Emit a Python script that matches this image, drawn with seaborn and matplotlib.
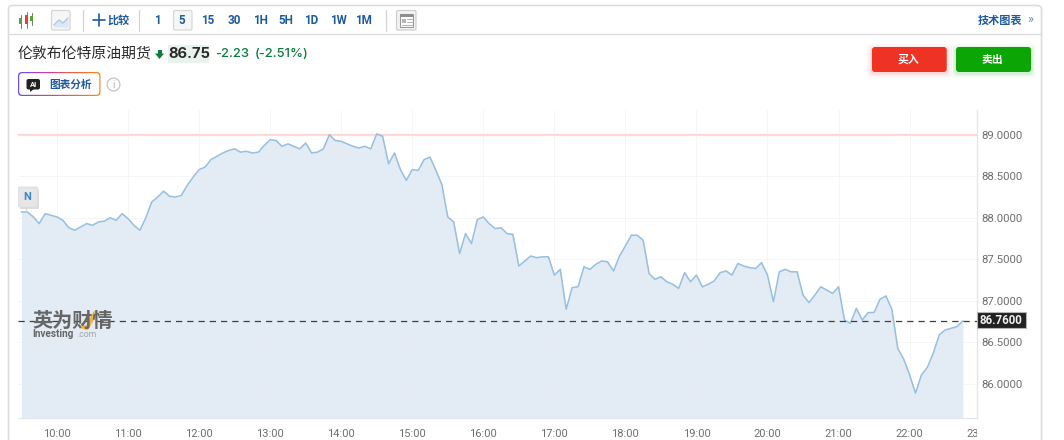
#!/usr/bin/env python
import numpy as np
import pandas as pd
import seaborn as sns
import matplotlib.pyplot as plt
from matplotlib.patches import FancyBboxPatch, Circle, Rectangle
from matplotlib.transforms import Bbox

# 5 minute closes, first one at 09:30
prices = [
    88.07, 88.07, 88.01, 87.93, 88.05, 88.03, 88.01, 87.97, 87.88, 87.85,
    87.89, 87.93, 87.91, 87.95, 87.96, 88.00, 87.97, 88.05, 87.99, 87.91,
    87.85, 88.00, 88.19, 88.25, 88.32, 88.26, 88.25, 88.27, 88.39, 88.49,
    88.58, 88.61, 88.70, 88.74, 88.78, 88.81, 88.83, 88.79, 88.80, 88.78,
    88.79, 88.87, 88.94, 88.93, 88.86, 88.89, 88.86, 88.83, 88.90, 88.78,
    88.79, 88.83, 89.00, 88.93, 88.92, 88.89, 88.86, 88.84, 88.86, 88.83,
    89.01, 88.98, 88.65, 88.78, 88.58, 88.45, 88.58, 88.57, 88.70, 88.73,
    88.57, 88.40, 88.01, 87.95, 87.57, 87.81, 87.69, 87.98, 88.01, 87.93,
    87.87, 87.88, 87.81, 87.80, 87.42, 87.48, 87.54, 87.52, 87.53, 87.53,
    87.31, 87.38, 86.90, 87.16, 87.17, 87.41, 87.38, 87.44, 87.48, 87.47,
    87.36, 87.54, 87.66, 87.79, 87.79, 87.73, 87.33, 87.26, 87.29, 87.23,
    87.20, 87.15, 87.34, 87.23, 87.31, 87.17, 87.20, 87.24, 87.34, 87.36,
    87.31, 87.45, 87.42, 87.40, 87.39, 87.46, 87.31, 86.99, 87.35, 87.38,
    87.35, 87.35, 87.07, 86.98, 87.07, 87.17, 87.13, 87.09, 87.17, 86.77,
    86.73, 86.91, 86.77, 86.86, 86.86, 87.02, 87.06, 86.90, 86.43, 86.30,
    86.11, 85.89, 86.11, 86.20, 86.37, 86.59, 86.65, 86.67, 86.69, 86.76,
]
hour_ticks = list(range(10, 23))
hour_labels = [f"{h}:00" for h in hour_ticks]
price_ticks = [86.0, 86.5, 87.0, 87.5, 88.0, 88.5, 89.0]
last_price = 86.76
high_line = 89.0
intervals = ["1", "5", "15", "30", "1H", "5H", "1D", "1W", "1M"]
interval_x = [157, 182, 208, 234, 260, 285.7, 311, 338, 363]

BLUE = "#1f5a9e"
GREEN = "#0a7d3f"
CJK = ["Noto Sans CJK SC", "DejaVu Sans"]

sns.set_theme(style="white")
plt.rcParams["font.family"] = ["Roboto", "Noto Sans CJK SC", "DejaVu Sans"]

W, H = 1064, 440
fig = plt.figure(figsize=(W / 100, H / 100), dpi=100, facecolor="white")

# chart area, in pixels: x 18-977, y 110-417.5
ax = fig.add_axes([18 / W, 1 - 417.5 / H, 959 / W, 307.5 / H], facecolor="none")

df = pd.DataFrame({"hour": 9.5 + np.arange(len(prices)) * 5 / 60, "price": prices})
ax.fill_between(df["hour"], df["price"], 85.0, color="#e3ecf4", lw=0, zorder=1)
sns.lineplot(data=df, x="hour", y="price", ax=ax, color="#98c1e0", lw=1.15, zorder=3)

ax.set_xlim(10 - 39 / 71.05, 10 + 920 / 71.05)
ax.set_ylim(86 - 33.5 / 83.1, 86 + 274 / 83.1)
ax.set_xticks(hour_ticks, hour_labels)
ax.set_yticks(price_ticks, [f"{p:.4f}" for p in price_ticks])
ax.yaxis.tick_right()
ax.set_xlabel("")
ax.set_ylabel("")
ax.tick_params(axis="x", length=3, width=0.8, color="#e3e6ee", labelsize=8,
               labelcolor="#6f6f6f", pad=5)
ax.tick_params(axis="y", length=0, labelsize=8.2, labelcolor="#6f6f6f", pad=3)
ax.grid(True, color="#e8ebf0", lw=0.7, alpha=0.45, zorder=2)
ax.set_axisbelow(False)
for side in ["top", "left"]:
    ax.spines[side].set_visible(False)
for side in ["right", "bottom"]:
    ax.spines[side].set_color("#e3e6ee")
    ax.spines[side].set_linewidth(1)

ax.axhline(high_line, color="#fbd6d4", lw=1.6, zorder=2)
ax.axhline(last_price, color="#3a3f45", lw=0.9, dashes=(5, 4), zorder=4)

# 23:00 label runs past the plot edge and is cut off there
cut = ax.text(23, -0.038, "23:00", transform=ax.get_xaxis_transform(), ha="center",
              va="top", fontsize=8, color="#6f6f6f", clip_on=True)
cut.set_clip_box(Bbox([[900, 0], [977, 40]]))

# everything around the chart goes on a pixel overlay
ui = fig.add_axes([0, 0, 1, 1], facecolor="none", zorder=5)
ui.set_xlim(0, W)
ui.set_ylim(H, 0)
ui.axis("off")


def rbox(x0, y0, x1, y1, r=2, fc="white", ec="none", lw=1, **kw):
    p = FancyBboxPatch((x0, y0), x1 - x0, y1 - y0, boxstyle=f"round,pad=0,rounding_size={r}",
                       fc=fc, ec=ec, lw=lw, **kw)
    ui.add_patch(p)
    return p


# card outline
rbox(8.5, 5.5, 1041.5, 470, r=4, fc="none", ec="#dcdcdc", lw=1.2)
ui.plot([9, 1041], [34.5, 34.5], color="#dcdcdc", lw=1)
for sx in [83, 139, 386]:
    ui.plot([sx, sx], [10, 31], color="#d4d4d4", lw=0.9)

# candlestick icon
for cx, cy0, cy1, col in [(20.5, 18, 24, "#5aa33c"), (26.5, 15, 24, "#e0413a"), (31.5, 16, 21, "#5aa33c")]:
    ui.plot([cx, cx], [cy0 - 3, cy1 + 4], color="#777777", lw=0.7)
    ui.add_patch(Rectangle((cx - 1.7, cy0), 3.4, cy1 - cy0, fc=col, ec="none", zorder=3))

# line chart icon
rbox(51.5, 10.5, 70, 30, r=1.5, fc="#f4f6f8", ec="#d6d6d6", lw=0.9)
ui.fill_between([54, 59, 63, 68], [25, 20, 23, 18], [27, 27, 27, 27], color="#dbe6f1", lw=0)
ui.plot([54, 59, 63, 68], [25, 20, 23, 18], color="#a9c4de", lw=0.9)

# toolbar
ui.plot([93, 105], [20.5, 20.5], color=BLUE, lw=1.2)
ui.plot([99, 99], [14.5, 26.5], color=BLUE, lw=1.2)
ui.text(118, 20, "比较", family=CJK, fontsize=8, color=BLUE, fontweight="bold", ha="center", va="center")
rbox(173.5, 10.5, 192, 30, r=1.5, fc="#f6f6f6", ec="#d8d8d8", lw=0.9)
for label, tx in zip(intervals, interval_x):
    ui.text(tx, 20.3, label, fontsize=8.4, color=BLUE, fontweight="bold", ha="center", va="center")

# layout icon
rbox(396.5, 10.5, 416, 30, r=1.5, fc="#f4f4f4", ec="#d0d0d0", lw=0.9)
ui.add_patch(Rectangle((400, 14), 13, 13, fc="white", ec="#9a9a9a", lw=0.8))
ui.add_patch(Rectangle((400, 14), 13, 3, fc="#8f8f8f", ec="none"))
ui.add_patch(Rectangle((401.5, 19), 4, 4, fc="#b5b5b5", ec="none"))
ui.plot([407, 412], [19.5, 19.5], color="#b5b5b5", lw=0.8)
ui.plot([407, 412], [22, 22], color="#b5b5b5", lw=0.8)
ui.plot([401.5, 412], [25, 25], color="#b5b5b5", lw=0.8)

ui.text(1000, 20, "技术图表", family=CJK, fontsize=8, color=BLUE, fontweight="bold", ha="center", va="center")
ui.text(1030.5, 20, "»", fontsize=9, color="#5f8dc0", ha="center", va="center")

# instrument header
ui.text(18, 54, "伦敦布伦特原油期货", family=CJK, fontsize=10.7, color="#2a2a2a", ha="left", va="center")
ui.plot([159.5, 159.5], [50, 54], color=GREEN, lw=3, solid_capstyle="butt")
ui.fill([155, 164, 159.5], [53.5, 53.5, 59], color=GREEN, lw=0)
ui.add_patch(Rectangle((168, 45), 40.5, 18.5, fc="#e9f3ee", ec="none"))
ui.text(168.5, 54.5, "86.75", family="Inter", fontsize=10.6, fontweight="bold", color="#2a2a2a", ha="left", va="center")
ui.text(215, 54, "-2.23", family="Inter", fontsize=9.4, fontweight="medium", color=GREEN, ha="left", va="center")
ui.text(255, 54, "(-2.51%)", family="Inter", fontsize=9.4, fontweight="medium", color=GREEN, ha="left", va="center")

# AI button with gradient border
grad = ui.imshow(np.linspace(0, 1, 64).reshape(1, -1), extent=(18, 100.5, 96, 72), aspect="auto",
                 cmap=plt.matplotlib.colors.LinearSegmentedColormap.from_list(
                     "ai", ["#6a4df0", "#c23fa8", "#f0623a", "#f58a1f"]), zorder=1)
outer = rbox(18, 72, 100.5, 96, r=4, fc="none", zorder=1)
grad.set_clip_path(outer)
ui.set_xlim(0, W)
ui.set_ylim(H, 0)
rbox(19.2, 73.2, 99.3, 94.8, r=3, fc="white", zorder=2)
rbox(26.5, 79, 40, 89.5, r=2, fc="#222222", zorder=3)
ui.fill([30, 34, 30], [89, 89, 92], color="#222222", lw=0, zorder=3)
ui.text(33.2, 84.2, "AI", fontsize=5.5, fontweight="bold", color="white", ha="center", va="center", zorder=4)
ui.text(70.5, 84.3, "图表分析", family=CJK, fontsize=7.7, fontweight="bold", color=BLUE, ha="center", va="center", zorder=4)
ui.add_patch(Circle((113.5, 84.5), 6.4, fc="white", ec="#c4c4c4", lw=0.9))
ui.text(113.5, 84.7, "i", fontsize=7, color="#b0b0b0", ha="center", va="center")

# buy / sell buttons, shadow is a few soft layers
for x0, x1, col, label in [(872, 946.7, "#ee3224", "买入"), (956, 1031, "#0ba505", "卖出")]:
    for grow, alpha in [(5, 0.04), (3, 0.06), (1.5, 0.08)]:
        rbox(x0 - grow, 49 - grow, x1 + grow, 72 + grow + 1, r=4, fc=col, alpha=alpha)
    rbox(x0, 47, x1, 72, r=3, fc=col)
    ui.text((x0 + x1) / 2 - 1, 59.5, label, family=CJK, fontsize=7.8, fontweight="bold", color="white",
            ha="center", va="center")

# N marker
rbox(20, 189, 39, 209, r=1, fc="#bdbdbd", alpha=0.5)
rbox(18.5, 187, 37.5, 207, r=1, fc="#e6e6e6", ec="#dddddd", lw=0.6)
ui.text(27.2, 196.5, "N", fontsize=8, fontweight="bold", color="#3f86c9", ha="center", va="center")
ui.plot([26, 26], [207, 212], color="#d5d5d5", lw=0.8)

# watermark
ui.text(32, 320, "英为财情", family=CJK, fontsize=14.5, fontweight="heavy", color="#666666",
        ha="left", va="center")
ui.plot([82, 87, 95], [326.5, 328, 313], color="#f2b544", lw=3, solid_capstyle="round")
ui.text(32.5, 334, "Investing", fontsize=7.2, fontweight="bold", color="#666666", ha="left", va="center")
ui.text(77, 334.5, ".com", fontsize=6.2, color="#a5a5a5", ha="left", va="center")

# last price tag
ui.add_patch(Rectangle((977, 312.5), 48.5, 16, fc="#222222", ec="#b5b5b5", lw=0.8))
ui.text(1001, 320.7, f"{last_price:.4f}", fontsize=8.3, fontweight="bold", color="#f2f2f2", ha="center", va="center")

fig.savefig("out.png", dpi=100)
